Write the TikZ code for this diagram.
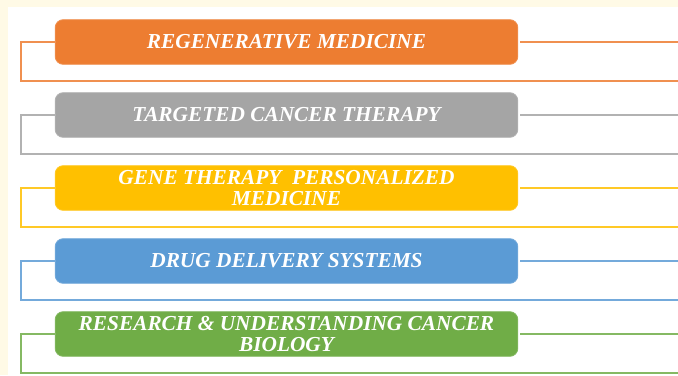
\documentclass[tikz,border=0pt]{standalone}
\usepackage{fontspec}
\setmainfont{Liberation Serif}
\usepackage{tikz}
\usetikzlibrary{positioning}

\definecolor{bgcream}{HTML}{FFFAE6}
\definecolor{regenorange}{HTML}{ED7D31}
\definecolor{targetgray}{HTML}{A5A5A5}
\definecolor{geneyellow}{HTML}{FFC000}
\definecolor{drugblue}{HTML}{5B9BD5}
\definecolor{researchgreen}{HTML}{70AD47}

\tikzset{
  topic/.style={draw=#1!85!white, fill=#1, rounded corners=6pt, line width=0.6pt,
    minimum width=347pt, minimum height=33.5pt, inner sep=1pt, align=center,
    text=white, font=\fontsize{16}{15.8}\selectfont\bfseries\itshape},
  frame/.style={draw=#1!85!white, line width=1.1pt}
}

\begin{document}
\begin{tikzpicture}[x=0.75pt,y=-0.75pt,line cap=rect]
\useasboundingbox (0,0) rectangle (678,375);
\fill[bgcream] (0,0) rectangle (678,375);
\fill[white] (8,7) rectangle (678,375);

\foreach \name/\col/\txt [count=\i] in {
  regen/regenorange/{REGENERATIVE MEDICINE},
  target/targetgray/{TARGETED CANCER THERAPY},
  gene/geneyellow/{GENE THERAPY\ \ PERSONALIZED\\MEDICINE},
  drug/drugblue/{DRUG DELIVERY SYSTEMS},
  research/researchgreen/{RESEARCH \& UNDERSTANDING CANCER\\BIOLOGY}}
{
  \pgfmathsetmacro{\cy}{42+73*(\i-1)}
  \pgfmathsetmacro{\by}{81+73*(\i-1)}
  \node[topic=\col] (\name) at (286.5,\cy) {\txt};
  % bracket round each box
  \coordinate (\name-l) at (21,\cy);
  \coordinate (\name-b) at (21,\by);
  \coordinate (\name-r) at (678,\cy);
  \draw[frame=\col] (\name.west) -- (\name-l) -- (\name-b) -- (678,\by);
  \draw[frame=\col] ([xshift=2pt]\name.east) -- (\name-r);
}
\end{tikzpicture}
\end{document}
